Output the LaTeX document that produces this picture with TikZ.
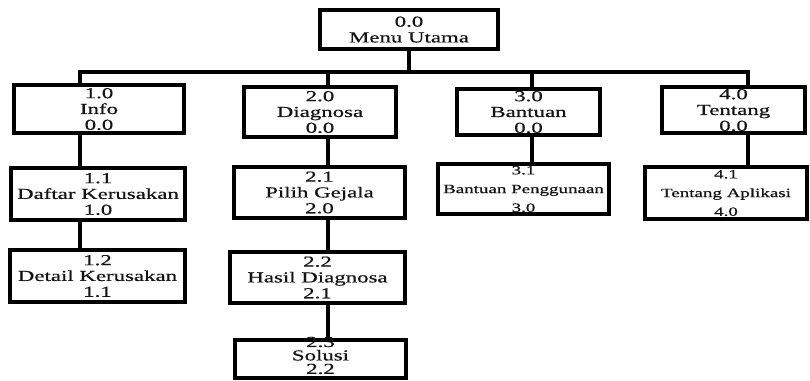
\documentclass[tikz,border=0pt]{standalone}
\usepackage{fontspec}
\setmainfont[FakeStretch=1.5, FakeBold=0.6]{Liberation Serif}
\usepackage{tikz}
\usepackage{xcolor}
\definecolor{InkBlack}{RGB}{20, 20, 20}
\usetikzlibrary{positioning}

\begin{document}
\begin{tikzpicture}[
    x=0.03cm, y=-0.03cm,
    box/.style={rectangle, draw=black, line width=3.4pt, align=center, inner sep=0pt,
        text=InkBlack, font=\fontsize{13}{13.5}\selectfont},
    smallbox/.style={box, font=\fontsize{10.8}{16}\selectfont},
    boxsize/.style 2 args={minimum width=#1*0.03cm, minimum height=#2*0.03cm},
    link/.style={line width=3.2pt, draw=black}
]
\useasboundingbox (0,0) rectangle (810,380);

% Level 0
\node[box, boxsize={178}{39}] (menu) at (409, 29.5) {0.0\\Menu Utama};

% Level 1
\node[box, boxsize={170}{48}] (info) at (99, 109) {1.0\\Info\\0.0};
\node[box, boxsize={152}{50}] (diag) at (320, 112) {2.0\\Diagnosa\\0.0};
\node[box, boxsize={143}{46}] (bant) at (528.5, 112) {3.0\\Bantuan\\0.0};
\node[box, boxsize={143}{46}] (tent) at (733.5, 110) {4.0\\Tentang\\0.0};

% Level 2
\node[box, boxsize={174}{52}] (daftar) at (98, 194) {1.1\\Daftar Kerusakan\\1.0};
\node[box, boxsize={171}{51}] (pilih) at (319.5, 192.5) {2.1\\Pilih Gejala\\2.0};
\node[smallbox, boxsize={171}{50}] (bpeng) at (523.5, 189) {3.1\\Bantuan Penggunaan\\3.0};
\node[smallbox, boxsize={162}{52}] (tapl) at (726, 193) {4.1\\Tentang Aplikasi\\4.0};

% Level 3 and 4
\node[box, boxsize={175}{52}] (detail) at (97.5, 276) {1.2\\Detail Kerusakan\\1.1};
\node[box, boxsize={175}{51}] (hasil) at (317.5, 277.5) {2.2\\Hasil Diagnosa\\2.1};
\node[box, boxsize={171}{38}] (solusi) at (320.5, 359) {};
\node[font=\fontsize{13}{11.5}\selectfont, align=center, text=InkBlack, inner sep=0pt]
    (solusitext) at ([yshift=3pt]solusi.center) {2.3\\Solusi\\2.2};

% Bus junctions
\coordinate (j1) at (80, 72);
\coordinate (j2) at (328, 72);
\coordinate (j3) at (532, 72);
\coordinate (j4) at (748, 72);

% Connectors
\draw[link] (menu.south) -- (menu.south |- j1);
\draw[link] (j1 |- info.north) -- (j1) -- (j4) -- (j4 |- tent.north);
\draw[link] (j2) -- (j2 |- diag.north);
\draw[link] (j3) -- (j3 |- bant.north);
\draw[link] (info.south -| j1) -- (daftar.north -| j1);
\draw[link] (daftar.south -| j1) -- (detail.north -| j1);
\draw[link] (diag.south -| j2) -- (pilih.north -| j2);
\draw[link] (pilih.south -| j2) -- (hasil.north -| j2);
\draw[link] (hasil.south -| j2) -- (solusi.north -| j2);
\draw[link] (bant.south -| j3) -- (bpeng.north -| j3);
\draw[link] (tent.south -| j4) -- (tapl.north -| j4);

\end{tikzpicture}
\end{document}
